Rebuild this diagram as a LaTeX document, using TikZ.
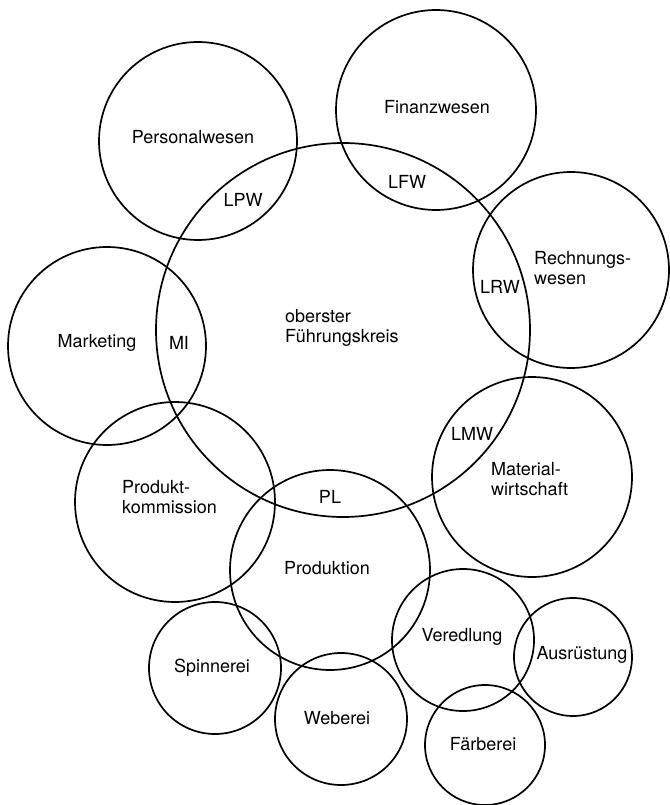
\documentclass[tikz,border=0pt]{standalone}
\usepackage{fontspec}
\setmainfont{TeX Gyre Heros}
\usepackage{tikz}
\usetikzlibrary{positioning}

\begin{document}
\begin{tikzpicture}[x=1pt,y=-1pt]
\tikzstyle{kreis}=[circle, draw, line width=1.7pt, inner sep=0pt]
\tikzstyle{beschr}=[inner sep=0pt, align=left, font=\fontsize{18}{20}\selectfont]

\useasboundingbox (0,0) rectangle (669,805);

\foreach \n/\x/\y/\d in {pers/198/141/198, fin/436/110/200, rech/571/270/196,
   mark/107/346/198, fuehr/343/330/374, mat/532/477/200, prodk/175/502/200,
   prod/330/570/200, spin/215/668/132, web/341/719/132, ver/463/640/142,
   aus/573/657/118, faer/485/745/120}
   \node[kreis, minimum size=\d pt] (\n) at (\x,\y) {};

\foreach \n/\x/\y/\t in {tpers/193/137/Personalwesen, tfin/437/107/Finanzwesen,
   lfw/407/182/LFW, lpw/243/200/LPW, lrw/500/287/LRW, tmark/97/343/Marketing,
   mi/179/343/MI, lmw/472/434/LMW, pl/330/497/PL, tprod/327/568/Produktion,
   tspin/212/668/Spinnerei, tweb/337/718/Weberei, tver/462/637/Veredlung,
   taus/582/655/Ausrüstung, tfaer/483/744/Färberei}
   \node[beschr] (\n) at (\x,\y) {\t};

\node[beschr, anchor=west] (trech) at (534,268) {Rechnungs-\\wesen};
\node[beschr, anchor=west] (tfuehr) at (285,328) {oberster\\Führungskreis};
\node[beschr, anchor=west] (tmat) at (491,479) {Material-\\wirtschaft};
\node[beschr, anchor=west] (tprodk) at (122,497) {Produkt-\\kommission};

\end{tikzpicture}
\end{document}
